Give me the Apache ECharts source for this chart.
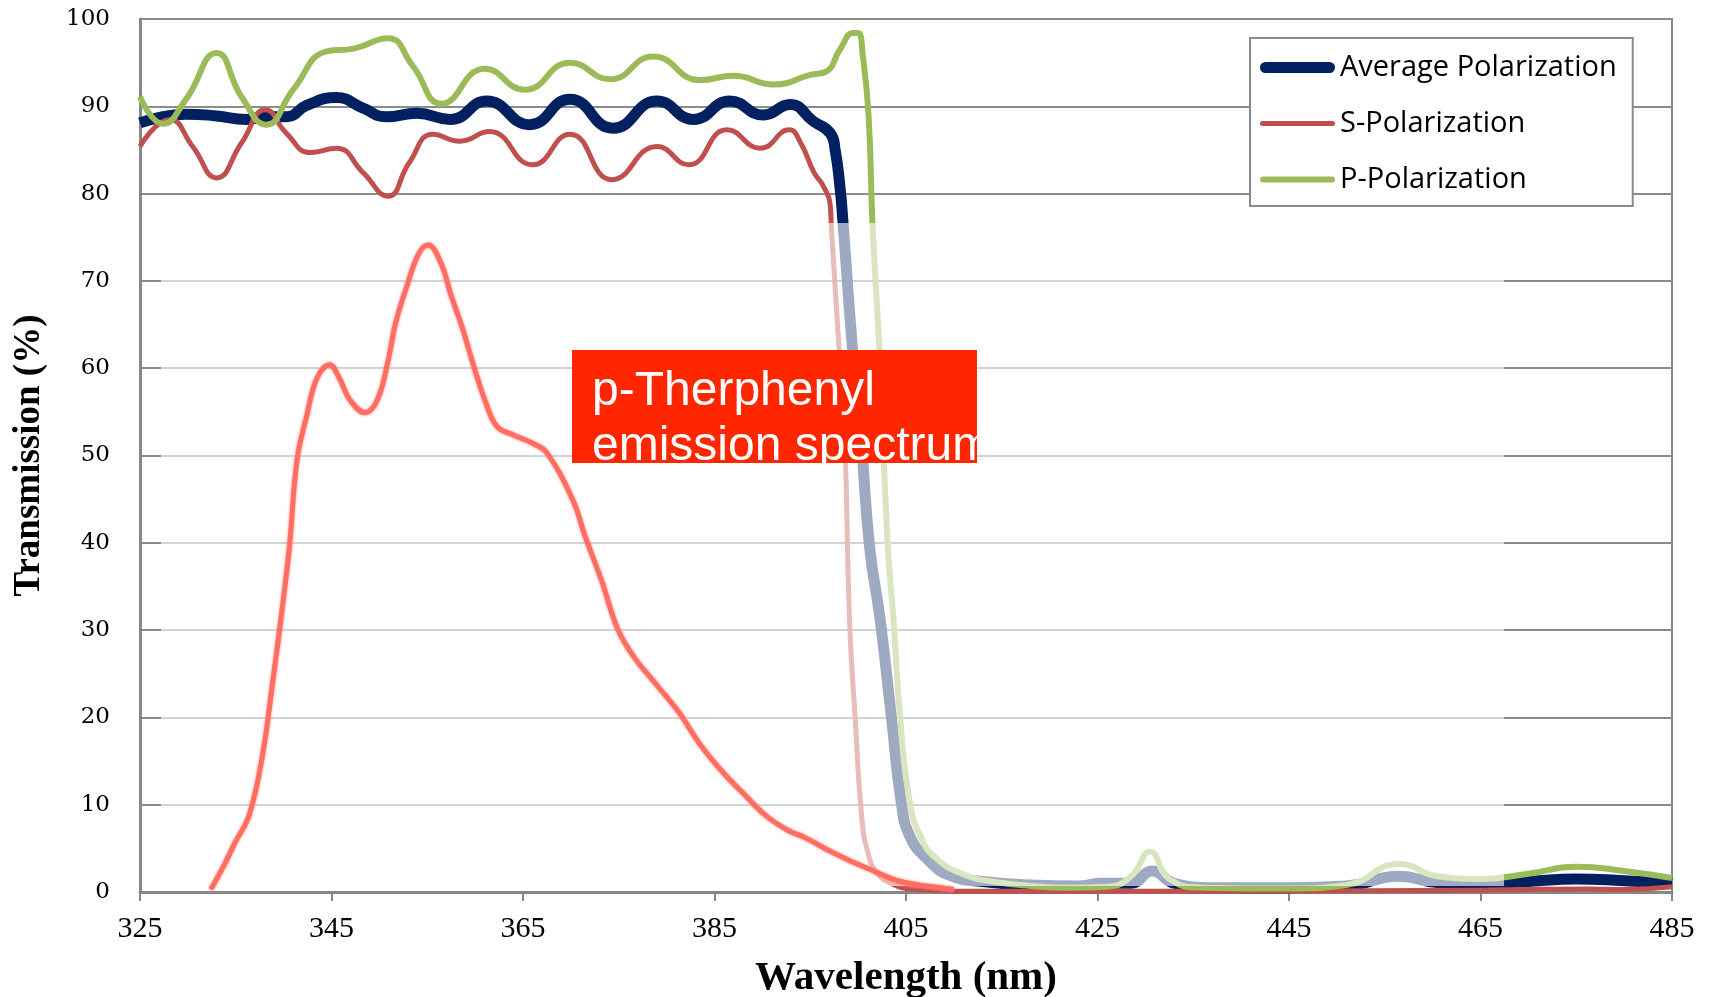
<!DOCTYPE html>
<html lang="en">
<head>
<meta charset="UTF-8">
<title>Transmission - p-Therphenyl emission</title>
<script src="https://cdn.jsdelivr.net/npm/echarts@6.0.0/dist/echarts.min.js"></script>
<style>
    html, body { margin: 0; padding: 0; background: #fff; }
    #chart { width: 1715px; height: 997px; }
</style>
</head>
<body>
<div id="chart"></div>
<script>
    // x ticks
    var wlTicks = [325, 345, 365, 385, 405, 425, 445, 465, 485];

    // Average Polarization
    var avgWl = [325, 327.4, 329.8, 333, 336.1, 338.2, 340.3, 342.4, 345.5, 348.3, 350.7, 353.9, 357.4, 361.2, 365.7, 369.9,
        374.4, 379, 382.8, 386.6, 390.1, 392.9, 395.3, 397.1, 397.6, 398.1, 398.4, 399.4, 400.3, 401.2, 402.3, 403.5, 404.5,
        405.4, 407.2, 409.6, 413, 418, 423, 425.5, 428.5, 430.7, 433, 437, 445, 451, 456.5, 460.5, 465, 470, 475, 480, 485];
    var avgT = [88.1, 88.8, 89.1, 88.9, 88.5, 88.8, 88.8, 90.1, 91.0, 89.8, 88.8, 89.2, 88.5, 90.6, 87.9, 90.8,
        87.5, 90.6, 88.5, 90.6, 89.0, 90.2, 88.3, 86.9, 85.0, 80.8, 77.0, 62.4, 52, 39.5, 31.2, 19.8, 10.3,
        6.4, 3.8, 1.9, 1.2, 0.8, 0.7, 1.0, 1.0, 2.4, 1.0, 0.5, 0.5, 0.7, 1.8, 1.1, 1.0, 1.2, 1.5, 1.3, 1.0];

    // S-Polarization
    var sWl = [325, 328.1, 330.5, 333, 335.6, 338.1, 340.3, 342.8, 345.5, 348.3, 350.9, 353.1, 355.6, 358.4, 361.5, 366,
        369.9, 374.3, 379, 382.3, 386.3, 389.8, 392.8, 394, 395.4, 396.4, 397.1, 397.2, 398.0, 398.6, 399.1, 399.7, 400.4,
        401.0, 401.9, 403.6, 406, 410, 430, 465, 470, 476, 480, 485];
    var sT = [85.4, 88.5, 85.4, 81.8, 85.8, 89.6, 86.9, 84.7, 85.2, 82.4, 79.7, 83.5, 86.8, 86.0, 87.1, 83.3,
        86.8, 81.6, 85.4, 83.3, 87.3, 85.2, 87.3, 85.8, 82.4, 80.8, 78.5, 76.2, 62.4, 52, 31.2, 19.8, 8.3,
        4.6, 2.3, 0.9, 0.3, 0.1, 0.1, 0.2, 0.3, 0.35, 0.3, 0.6];

    // P-Polarization
    var pWl = [325, 327.4, 329.8, 333, 335.6, 338.2, 341, 344.5, 347.3, 350.9, 353.5, 356.5, 361, 365.2, 369.9, 374.1,
        378.6, 383.5, 387, 391.2, 395, 396.7, 398.1, 399.5, 400, 400.5, 401.1, 401.5, 402.2, 403.1, 403.7, 404.4, 405.4,
        406.5, 408.2, 411.3, 414, 418, 422, 426, 428.5, 430.5, 432.5, 436, 445, 451, 456.5, 460.5, 465, 470, 475, 480, 485];
    var pT = [91.1, 88.0, 90.8, 96.1, 91.1, 87.9, 91.9, 96.3, 96.6, 97.8, 94.6, 90.3, 94.3, 91.9, 95.0, 93.1,
        95.7, 93.0, 93.5, 92.5, 93.6, 94.0, 96.5, 98.4, 98.4, 95.7, 88.8, 76.6, 62.4, 39.5, 31.2, 19.8, 10.3,
        6.4, 3.8, 1.9, 1.2, 0.7, 0.5, 0.6, 1.8, 4.6, 1.5, 0.5, 0.4, 0.8, 3.2, 1.8, 1.5, 2.1, 2.9, 2.4, 1.6];

    // p-Therphenyl emission spectrum (pasted curve)
    var emWl = [332.4, 333.8, 334.9, 336.4, 337.8, 338.9, 339.8, 340.6, 341.4, 342.4, 343.5, 344.8, 345.8, 346.9, 348.5,
        349.8, 350.9, 351.7, 352.9, 354.1, 355.1, 356.4, 357.5, 358.7, 359.7, 361, 362.3, 364.1, 366, 367.5, 370.2, 371.5,
        373.2, 374.9, 376.6, 378.9, 381.2, 383.5, 385.8, 388, 390.3, 392.6, 394.5, 397.2, 399.5, 401.2, 404.4, 407.8, 410];
    var emT = [0.3, 3.1, 5.6, 8.8, 15.7, 24.4, 32, 39.5, 49.5, 54.5, 58.9, 60.4, 58.9, 56.4, 54.9,
        56.4, 60.8, 65.2, 69.5, 73.1, 74.1, 72.1, 68.3, 64.5, 60.8, 56.4, 53.3, 52.3, 51.4, 50.3, 44.9, 40.7,
        35.7, 30.1, 26.9, 23.8, 20.7, 16.9, 13.8, 11.3, 8.8, 7.1, 6.2, 4.6, 3.4, 2.6, 1.2, 0.6, 0.3];

    function pairs(xs, ys) {
        var out = [];
        for (var i = 0; i < xs.length; i++) {
            out.push([xs[i], ys[i]]);
        }
        return out;
    }

    // legend bars of different thickness (extra moveTo keeps the same 75x20 box)
    function barIcon(h) {
        var t = 10 - h / 2, b = 10 + h / 2, r = h / 2;
        return 'path://M0,0M' + r + ',' + t + 'L' + (75 - r) + ',' + t +
            'A' + r + ',' + r + ',0,0,1,' + (75 - r) + ',' + b +
            'L' + r + ',' + b + 'A' + r + ',' + r + ',0,0,1,' + r + ',' + t + 'ZM75,20';
    }

    var myChart = echarts.init(document.getElementById('chart'));
    var axisGray = '#878787';

    var option = {
        animation: false,
        grid: {
            left: 140, top: 19, width: 1532, height: 873,
            outerBoundsMode: 'none',
            show: true, borderColor: axisGray, borderWidth: 2
        },
        legend: {
            data: [
                { name: 'Average Polarization', icon: barIcon(11) },
                { name: 'S-Polarization', icon: barIcon(5) },
                { name: 'P-Polarization', icon: barIcon(6) }
            ],
            orient: 'vertical',
            left: 1250, top: 38,
            padding: [15, 16, 12, 10],
            itemWidth: 75, itemHeight: 20, itemGap: 27,
            borderColor: '#8a8a8a', borderWidth: 2,
            backgroundColor: '#fff',
            textStyle: { fontFamily: 'Open Sans', fontSize: 29, color: '#000', lineHeight: 28 }
        },
        xAxis: {
            type: 'value',
            min: wlTicks[0], max: wlTicks[wlTicks.length - 1], interval: 20,
            name: 'Wavelength (nm)',
            nameLocation: 'middle', nameGap: 66,
            nameTextStyle: { fontFamily: 'Liberation Serif', fontWeight: 'bold', fontSize: 41, color: '#000' },
            axisLine: { lineStyle: { color: axisGray, width: 3 } },
            axisTick: { show: true, length: 9, lineStyle: { color: axisGray, width: 2 } },
            axisLabel: { margin: 22, fontFamily: 'Liberation Serif', fontSize: 30, color: '#000' },
            splitLine: { show: false }
        },
        yAxis: {
            type: 'value',
            min: 0, max: 100, interval: 10,
            name: 'Transmission (%)',
            nameLocation: 'middle', nameGap: 92, nameRotate: 90,
            nameTextStyle: { fontFamily: 'Liberation Serif', fontWeight: 'bold', fontSize: 37, color: '#000' },
            axisLine: { show: true, lineStyle: { color: axisGray, width: 3 } },
            axisTick: { show: false },
            axisLabel: { margin: 30, fontFamily: 'DejaVu Serif', fontSize: 23, color: '#000' },
            splitLine: { lineStyle: { color: '#8c8c8c', width: 2 } }
        },
        graphic: [
            {   // washed-out area of the pasted picture
                type: 'rect', left: 161, top: 223, z: 10, silent: true,
                shape: { width: 1343, height: 663 },
                style: { fill: 'rgba(255,255,255,0.62)' }
            },
            {   // red label box
                type: 'rect', left: 572, top: 350, z: 30, silent: true,
                shape: { width: 405, height: 113 },
                style: { fill: '#ff2600' }
            }
        ],
        series: [
            {
                name: 'Average Polarization', type: 'line', symbol: 'none',
                smooth: 0.5,
                data: pairs(avgWl, avgT),
                lineStyle: { color: '#002060', width: 11 },
                itemStyle: { color: '#002060' }
            },
            {
                name: 'S-Polarization', type: 'line', symbol: 'none',
                smooth: 0.5,
                data: pairs(sWl, sT),
                lineStyle: { color: '#c0504d', width: 5 },
                itemStyle: { color: '#c0504d' }
            },
            {
                name: 'P-Polarization', type: 'line', symbol: 'none',
                smooth: 0.5,
                data: pairs(pWl, pT),
                lineStyle: { color: '#9bbb59', width: 6 },
                itemStyle: { color: '#9bbb59' }
            },
            {
                name: 'p-Therphenyl emission spectrum', type: 'line', symbol: 'none',
                smooth: 0.4, z: 20,
                data: pairs(emWl, emT),
                lineStyle: { color: '#ff6e60', width: 5, shadowBlur: 3, shadowColor: '#ff8a80' },
                itemStyle: { color: '#ff6e60' }
            }
        ]
    };

    myChart.setOption(option);

    // label text, clipped to the red box like in the picture
    var labelGroup = new echarts.graphic.Group();
    labelGroup.setClipPath(new echarts.graphic.Rect({ shape: { x: 572, y: 350, width: 405, height: 113 } }));
    var labelLines = ['p-Therphenyl', 'emission spectrum'];
    for (var k = 0; k < labelLines.length; k++) {
        labelGroup.add(new echarts.graphic.Text({
            z: 31,
            silent: true,
            style: {
                text: labelLines[k],
                x: 592, y: 392 + k * 55,
                fill: '#fff',
                font: '48px "Liberation Sans"',
                verticalAlign: 'middle'
            }
        }));
    }
    myChart.getZr().add(labelGroup);
</script>
</body>
</html>
